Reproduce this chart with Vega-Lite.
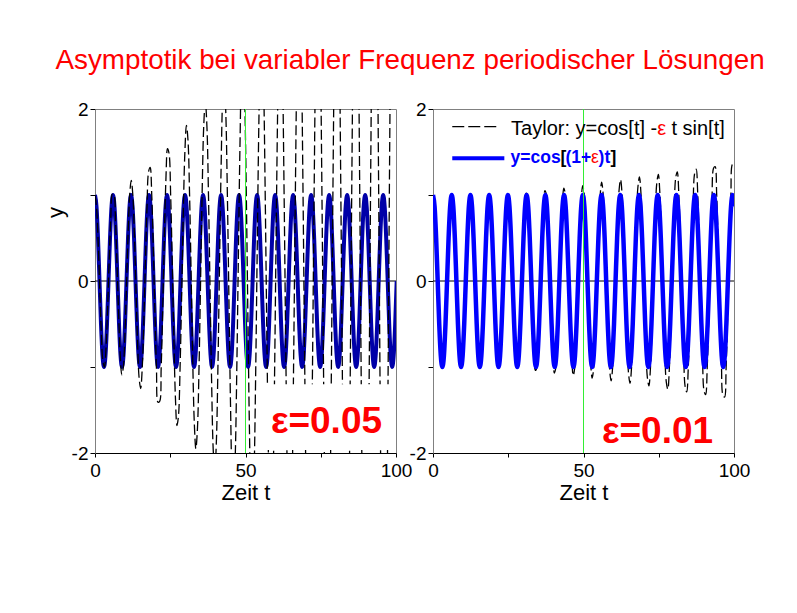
{
"$schema": "https://vega.github.io/schema/vega-lite/v6.json",
"background": "white",
"autosize": {"type": "pad"},
"padding": {"left": 43, "top": 46, "right": 5, "bottom": 5},
"bounds": "flush",
"spacing": 37,
"title": {"text": "Asymptotik bei variabler Frequenz periodischer Lösungen", "font": "Liberation Sans", "fontSize": 27.8, "fontWeight": "normal", "color": "#ff0000", "anchor": "start", "dx": 12, "offset": 25},
"config": {
  "view": {"stroke": "#808080", "strokeWidth": 1},
  "axis": {"labelFont": "Liberation Sans", "labelFontSize": 19, "labelColor": "black", "titleFont": "Liberation Sans", "titleFontSize": 22, "titleFontWeight": "normal", "titleColor": "black", "grid": false, "tickColor": "black", "domainColor": "black", "labelOverlap": false, "labelFlush": false},
  "text": {"font": "Liberation Sans"}
},
"datasets": {
"T": [
{"t":0,"yl":1,"yr":1},{"t":0.52,"yl":0.85,"yr":0.86},{"t":1.05,"yl":0.45,"yr":0.49},{"t":1.57,"yl":-0.08,"yr":-0.02},{"t":2.09,"yl":-0.59,"yr":-0.52},{"t":2.62,"yl":-0.93,"yr":-0.88},{"t":3.14,"yl":-1,"yr":-1},{"t":3.67,"yl":-0.77,"yr":-0.85},{"t":4.19,"yl":-0.32,"yr":-0.46},{"t":4.71,"yl":0.24,"yr":0.05},{"t":5.24,"yl":0.73,"yr":0.55},{"t":5.76,"yl":1.01,"yr":0.89},
{"t":6.28,"yl":1,"yr":1},{"t":6.81,"yl":0.70,"yr":0.83},{"t":7.33,"yl":0.18,"yr":0.44},{"t":7.85,"yl":-0.39,"yr":-0.08},{"t":8.38,"yl":-0.86,"yr":-0.57},{"t":8.90,"yl":-1.09,"yr":-0.91},{"t":9.42,"yl":-1,"yr":-1},{"t":9.95,"yl":-0.62,"yr":-0.82},{"t":10.47,"yl":-0.05,"yr":-0.41},{"t":11.00,"yl":0.55,"yr":0.11},{"t":11.52,"yl":1.00,"yr":0.60},{"t":12.04,"yl":1.17,"yr":0.93},
{"t":12.57,"yl":1,"yr":1},{"t":13.09,"yl":0.54,"yr":0.80},{"t":13.61,"yl":-0.09,"yr":0.38},{"t":14.14,"yl":-0.71,"yr":-0.14},{"t":14.66,"yl":-1.13,"yr":-0.63},{"t":15.18,"yl":-1.25,"yr":-0.94},{"t":15.71,"yl":-1,"yr":-1},{"t":16.23,"yl":-0.46,"yr":-0.78},{"t":16.76,"yl":0.23,"yr":-0.35},{"t":17.28,"yl":0.86,"yr":0.17},{"t":17.80,"yl":1.27,"yr":0.65},{"t":18.33,"yl":1.32,"yr":0.96},
{"t":18.85,"yl":1,"yr":1},{"t":19.37,"yl":0.38,"yr":0.77},{"t":19.90,"yl":-0.36,"yr":0.33},{"t":20.42,"yl":-1.02,"yr":-0.20},{"t":20.94,"yl":-1.41,"yr":-0.68},{"t":21.47,"yl":-1.40,"yr":-0.97},{"t":21.99,"yl":-1,"yr":-1},{"t":22.51,"yl":-0.30,"yr":-0.75},{"t":23.04,"yl":0.50,"yr":-0.30},{"t":23.56,"yl":1.18,"yr":0.24},{"t":24.09,"yl":1.54,"yr":0.71},{"t":24.61,"yl":1.48,"yr":0.99},
{"t":25.13,"yl":1,"yr":1},{"t":25.66,"yl":0.22,"yr":0.74},{"t":26.18,"yl":-0.63,"yr":0.27},{"t":26.70,"yl":-1.34,"yr":-0.27},{"t":27.23,"yl":-1.68,"yr":-0.74},{"t":27.75,"yl":-1.56,"yr":-1.00},{"t":28.27,"yl":-1,"yr":-1},{"t":28.80,"yl":-0.15,"yr":-0.72},{"t":29.32,"yl":0.77,"yr":-0.25},{"t":29.85,"yl":1.49,"yr":0.30},{"t":30.37,"yl":1.81,"yr":0.76},{"t":30.89,"yl":1.64,"yr":1.02},
{"t":31.42,"yl":1,"yr":1},{"t":31.94,"yl":0.07,"yr":0.71},{"t":32.46,"yl":-0.91,"yr":0.22},{"t":32.99,"yl":-1.65,"yr":-0.33},{"t":33.51,"yl":-1.95,"yr":-0.79},{"t":34.03,"yl":-1.72,"yr":-1.04},{"t":34.56,"yl":-1,"yr":-1},{"t":35.08,"yl":0.01,"yr":-0.69},{"t":35.60,"yl":1.04,"yr":-0.19},{"t":36.13,"yl":1.81,"yr":0.36},{"t":36.65,"yl":2.09,"yr":0.82},{"t":37.18,"yl":1.80,"yr":1.05},
{"t":37.70,"yl":1,"yr":1},{"t":38.22,"yl":-0.09,"yr":0.67},{"t":38.75,"yl":-1.18,"yr":0.16},{"t":39.27,"yl":-1.96,"yr":-0.39},{"t":39.79,"yl":-2.22,"yr":-0.84},{"t":40.32,"yl":-1.87,"yr":-1.07},{"t":40.84,"yl":-1,"yr":-1},{"t":41.36,"yl":0.17,"yr":-0.66},{"t":41.89,"yl":1.31,"yr":-0.14},{"t":42.41,"yl":2.12,"yr":0.42},{"t":42.94,"yl":2.36,"yr":0.87},{"t":43.46,"yl":1.95,"yr":1.08},
{"t":43.98,"yl":1,"yr":1},{"t":44.51,"yl":-0.25,"yr":0.64},{"t":45.03,"yl":-1.45,"yr":0.11},{"t":45.55,"yl":-2.28,"yr":-0.46},{"t":46.08,"yl":-2.50,"yr":-0.90},{"t":46.60,"yl":-2.03,"yr":-1.10},{"t":47.12,"yl":-1,"yr":-1},{"t":47.65,"yl":0.33,"yr":-0.63},{"t":48.17,"yl":1.59,"yr":-0.08},{"t":48.69,"yl":2.43,"yr":0.49},{"t":49.22,"yl":2.63,"yr":0.93},{"t":49.74,"yl":2.11,"yr":1.11},
{"t":50.27,"yl":1,"yr":1},{"t":50.79,"yl":-0.40,"yr":0.61},{"t":51.31,"yl":-1.72,"yr":0.06},{"t":51.84,"yl":-2.59,"yr":-0.52},{"t":52.36,"yl":-2.77,"yr":-0.95},{"t":52.88,"yl":-2.19,"yr":-1.13},{"t":53.41,"yl":-1,"yr":-1},{"t":53.93,"yl":0.48,"yr":-0.60},{"t":54.45,"yl":1.86,"yr":-0.03},{"t":54.98,"yl":2.75,"yr":0.55},{"t":55.50,"yl":2.90,"yr":0.98},{"t":56.03,"yl":2.27,"yr":1.15},
{"t":56.55,"yl":1,"yr":1},{"t":57.07,"yl":-0.56,"yr":0.58},{"t":57.60,"yl":-1.99,"yr":0.00},{"t":58.12,"yl":-2.91,"yr":-0.58},{"t":58.64,"yl":-3.04,"yr":-1.01},{"t":59.17,"yl":-2.35,"yr":-1.16},{"t":59.69,"yl":-1,"yr":-1},{"t":60.21,"yl":0.64,"yr":-0.56},{"t":60.74,"yl":2.13,"yr":0.03},{"t":61.26,"yl":3.06,"yr":0.61},{"t":61.78,"yl":3.18,"yr":1.04},{"t":62.31,"yl":2.42,"yr":1.18},
{"t":62.83,"yl":1,"yr":1},{"t":63.36,"yl":-0.72,"yr":0.55},{"t":63.88,"yl":-2.27,"yr":-0.05},{"t":64.40,"yl":-3.22,"yr":-0.64},{"t":64.93,"yl":-3.31,"yr":-1.06},{"t":65.45,"yl":-2.50,"yr":-1.19},{"t":65.97,"yl":-1,"yr":-1},{"t":66.50,"yl":0.80,"yr":-0.53},{"t":67.02,"yl":2.40,"yr":0.08},{"t":67.54,"yl":3.38,"yr":0.68},{"t":68.07,"yl":3.45,"yr":1.09},{"t":68.59,"yl":2.58,"yr":1.21},
{"t":69.12,"yl":1,"yr":1},{"t":69.64,"yl":-0.87,"yr":0.52},{"t":70.16,"yl":-2.54,"yr":-0.11},{"t":70.69,"yl":-3.53,"yr":-0.71},{"t":71.21,"yl":-3.58,"yr":-1.12},{"t":71.73,"yl":-2.66,"yr":-1.22},{"t":72.26,"yl":-1,"yr":-1},{"t":72.78,"yl":0.95,"yr":-0.50},{"t":73.30,"yl":2.67,"yr":0.13},{"t":73.83,"yl":3.69,"yr":0.74},{"t":74.35,"yl":3.72,"yr":1.14},{"t":74.87,"yl":2.74,"yr":1.24},
{"t":75.40,"yl":1,"yr":1},{"t":75.92,"yl":-1.03,"yr":0.49},{"t":76.45,"yl":-2.81,"yr":-0.16},{"t":76.97,"yl":-3.85,"yr":-0.77},{"t":77.49,"yl":-3.86,"yr":-1.17},{"t":78.02,"yl":-2.82,"yr":-1.26},{"t":78.54,"yl":-1,"yr":-1},{"t":79.06,"yl":1.11,"yr":-0.47},{"t":79.59,"yl":2.95,"yr":0.19},{"t":80.11,"yl":4.01,"yr":0.80},{"t":80.63,"yl":3.99,"yr":1.20},{"t":81.16,"yl":2.89,"yr":1.27},
{"t":81.68,"yl":1,"yr":1},{"t":82.21,"yl":-1.19,"yr":0.45},{"t":82.73,"yl":-3.08,"yr":-0.22},{"t":83.25,"yl":-4.16,"yr":-0.83},{"t":83.78,"yl":-4.13,"yr":-1.23},{"t":84.30,"yl":-2.97,"yr":-1.29},{"t":84.82,"yl":-1,"yr":-1},{"t":85.35,"yl":1.27,"yr":-0.44},{"t":85.87,"yl":3.22,"yr":0.24},{"t":86.39,"yl":4.32,"yr":0.86},{"t":86.92,"yl":4.26,"yr":1.25},{"t":87.44,"yl":3.05,"yr":1.30},
{"t":87.96,"yl":1,"yr":1},{"t":88.49,"yl":-1.35,"yr":0.42},{"t":89.01,"yl":-3.35,"yr":-0.27},{"t":89.54,"yl":-4.48,"yr":-0.90},{"t":90.06,"yl":-4.40,"yr":-1.28},{"t":90.58,"yl":-3.13,"yr":-1.32},{"t":91.11,"yl":-1,"yr":-1},{"t":91.63,"yl":1.42,"yr":-0.41},{"t":92.15,"yl":3.49,"yr":0.30},{"t":92.68,"yl":4.63,"yr":0.93},{"t":93.20,"yl":4.54,"yr":1.31},{"t":93.72,"yl":3.21,"yr":1.33},
{"t":94.25,"yl":1,"yr":1},{"t":94.77,"yl":-1.50,"yr":0.39},{"t":95.29,"yl":-3.63,"yr":-0.33},{"t":95.82,"yl":-4.79,"yr":-0.96},{"t":96.34,"yl":-4.67,"yr":-1.33},{"t":96.87,"yl":-3.29,"yr":-1.35},{"t":97.39,"yl":-1,"yr":-1},{"t":97.91,"yl":1.58,"yr":-0.38},{"t":98.44,"yl":3.76,"yr":0.35},{"t":98.96,"yl":4.95,"yr":0.99},{"t":99.48,"yl":4.81,"yr":1.36},{"t":100.01,"yl":3.37,"yr":1.37}
],
"EL": [
{"t":0,"y":1},{"t":0.50,"y":0.866},{"t":1.00,"y":0.5},{"t":1.50,"y":0},{"t":1.99,"y":-0.5},{"t":2.49,"y":-0.866},{"t":2.99,"y":-1},{"t":3.49,"y":-0.866},{"t":3.99,"y":-0.5},{"t":4.49,"y":0},{"t":4.99,"y":0.5},{"t":5.49,"y":0.866},
{"t":5.98,"y":1},{"t":6.48,"y":0.866},{"t":6.98,"y":0.5},{"t":7.48,"y":0},{"t":7.98,"y":-0.5},{"t":8.48,"y":-0.866},{"t":8.98,"y":-1},{"t":9.47,"y":-0.866},{"t":9.97,"y":-0.5},{"t":10.47,"y":0},{"t":10.97,"y":0.5},{"t":11.47,"y":0.866},
{"t":11.97,"y":1},{"t":12.47,"y":0.866},{"t":12.97,"y":0.5},{"t":13.46,"y":0},{"t":13.96,"y":-0.5},{"t":14.46,"y":-0.866},{"t":14.96,"y":-1},{"t":15.46,"y":-0.866},{"t":15.96,"y":-0.5},{"t":16.46,"y":0},{"t":16.95,"y":0.5},{"t":17.45,"y":0.866},
{"t":17.95,"y":1},{"t":18.45,"y":0.866},{"t":18.95,"y":0.5},{"t":19.45,"y":0},{"t":19.95,"y":-0.5},{"t":20.45,"y":-0.866},{"t":20.94,"y":-1},{"t":21.44,"y":-0.866},{"t":21.94,"y":-0.5},{"t":22.44,"y":0},{"t":22.94,"y":0.5},{"t":23.44,"y":0.866},
{"t":23.94,"y":1},{"t":24.43,"y":0.866},{"t":24.93,"y":0.5},{"t":25.43,"y":0},{"t":25.93,"y":-0.5},{"t":26.43,"y":-0.866},{"t":26.93,"y":-1},{"t":27.43,"y":-0.866},{"t":27.93,"y":-0.5},{"t":28.42,"y":0},{"t":28.92,"y":0.5},{"t":29.42,"y":0.866},
{"t":29.92,"y":1},{"t":30.42,"y":0.866},{"t":30.92,"y":0.5},{"t":31.42,"y":0},{"t":31.91,"y":-0.5},{"t":32.41,"y":-0.866},{"t":32.91,"y":-1},{"t":33.41,"y":-0.866},{"t":33.91,"y":-0.5},{"t":34.41,"y":0},{"t":34.91,"y":0.5},{"t":35.41,"y":0.866},
{"t":35.90,"y":1},{"t":36.40,"y":0.866},{"t":36.90,"y":0.5},{"t":37.40,"y":0},{"t":37.90,"y":-0.5},{"t":38.40,"y":-0.866},{"t":38.90,"y":-1},{"t":39.39,"y":-0.866},{"t":39.89,"y":-0.5},{"t":40.39,"y":0},{"t":40.89,"y":0.5},{"t":41.39,"y":0.866},
{"t":41.89,"y":1},{"t":42.39,"y":0.866},{"t":42.89,"y":0.5},{"t":43.38,"y":0},{"t":43.88,"y":-0.5},{"t":44.38,"y":-0.866},{"t":44.88,"y":-1},{"t":45.38,"y":-0.866},{"t":45.88,"y":-0.5},{"t":46.38,"y":0},{"t":46.87,"y":0.5},{"t":47.37,"y":0.866},
{"t":47.87,"y":1},{"t":48.37,"y":0.866},{"t":48.87,"y":0.5},{"t":49.37,"y":0},{"t":49.87,"y":-0.5},{"t":50.37,"y":-0.866},{"t":50.86,"y":-1},{"t":51.36,"y":-0.866},{"t":51.86,"y":-0.5},{"t":52.36,"y":0},{"t":52.86,"y":0.5},{"t":53.36,"y":0.866},
{"t":53.86,"y":1},{"t":54.35,"y":0.866},{"t":54.85,"y":0.5},{"t":55.35,"y":0},{"t":55.85,"y":-0.5},{"t":56.35,"y":-0.866},{"t":56.85,"y":-1},{"t":57.35,"y":-0.866},{"t":57.85,"y":-0.5},{"t":58.34,"y":0},{"t":58.84,"y":0.5},{"t":59.34,"y":0.866},
{"t":59.84,"y":1},{"t":60.34,"y":0.866},{"t":60.84,"y":0.5},{"t":61.34,"y":0},{"t":61.83,"y":-0.5},{"t":62.33,"y":-0.866},{"t":62.83,"y":-1},{"t":63.33,"y":-0.866},{"t":63.83,"y":-0.5},{"t":64.33,"y":0},{"t":64.83,"y":0.5},{"t":65.33,"y":0.866},
{"t":65.82,"y":1},{"t":66.32,"y":0.866},{"t":66.82,"y":0.5},{"t":67.32,"y":0},{"t":67.82,"y":-0.5},{"t":68.32,"y":-0.866},{"t":68.82,"y":-1},{"t":69.31,"y":-0.866},{"t":69.81,"y":-0.5},{"t":70.31,"y":0},{"t":70.81,"y":0.5},{"t":71.31,"y":0.866},
{"t":71.81,"y":1},{"t":72.31,"y":0.866},{"t":72.81,"y":0.5},{"t":73.30,"y":0},{"t":73.80,"y":-0.5},{"t":74.30,"y":-0.866},{"t":74.80,"y":-1},{"t":75.30,"y":-0.866},{"t":75.80,"y":-0.5},{"t":76.30,"y":0},{"t":76.79,"y":0.5},{"t":77.29,"y":0.866},
{"t":77.79,"y":1},{"t":78.29,"y":0.866},{"t":78.79,"y":0.5},{"t":79.29,"y":0},{"t":79.79,"y":-0.5},{"t":80.29,"y":-0.866},{"t":80.78,"y":-1},{"t":81.28,"y":-0.866},{"t":81.78,"y":-0.5},{"t":82.28,"y":0},{"t":82.78,"y":0.5},{"t":83.28,"y":0.866},
{"t":83.78,"y":1},{"t":84.27,"y":0.866},{"t":84.77,"y":0.5},{"t":85.27,"y":0},{"t":85.77,"y":-0.5},{"t":86.27,"y":-0.866},{"t":86.77,"y":-1},{"t":87.27,"y":-0.866},{"t":87.77,"y":-0.5},{"t":88.26,"y":0},{"t":88.76,"y":0.5},{"t":89.26,"y":0.866},
{"t":89.76,"y":1},{"t":90.26,"y":0.866},{"t":90.76,"y":0.5},{"t":91.26,"y":0},{"t":91.75,"y":-0.5},{"t":92.25,"y":-0.866},{"t":92.75,"y":-1},{"t":93.25,"y":-0.866},{"t":93.75,"y":-0.5},{"t":94.25,"y":0},{"t":94.75,"y":0.5},{"t":95.25,"y":0.866},
{"t":95.74,"y":1},{"t":96.24,"y":0.866},{"t":96.74,"y":0.5},{"t":97.24,"y":0},{"t":97.74,"y":-0.5},{"t":98.24,"y":-0.866},{"t":98.74,"y":-1},{"t":99.23,"y":-0.866},{"t":99.73,"y":-0.5},{"t":100.23,"y":0}
],
"ER": [
{"t":0,"y":1},{"t":0.52,"y":0.866},{"t":1.04,"y":0.5},{"t":1.56,"y":0},{"t":2.07,"y":-0.5},{"t":2.59,"y":-0.866},{"t":3.11,"y":-1},{"t":3.63,"y":-0.866},{"t":4.15,"y":-0.5},{"t":4.67,"y":0},{"t":5.18,"y":0.5},{"t":5.70,"y":0.866},
{"t":6.22,"y":1},{"t":6.74,"y":0.866},{"t":7.26,"y":0.5},{"t":7.78,"y":0},{"t":8.29,"y":-0.5},{"t":8.81,"y":-0.866},{"t":9.33,"y":-1},{"t":9.85,"y":-0.866},{"t":10.37,"y":-0.5},{"t":10.89,"y":0},{"t":11.41,"y":0.5},{"t":11.92,"y":0.866},
{"t":12.44,"y":1},{"t":12.96,"y":0.866},{"t":13.48,"y":0.5},{"t":14.00,"y":0},{"t":14.52,"y":-0.5},{"t":15.03,"y":-0.866},{"t":15.55,"y":-1},{"t":16.07,"y":-0.866},{"t":16.59,"y":-0.5},{"t":17.11,"y":0},{"t":17.63,"y":0.5},{"t":18.14,"y":0.866},
{"t":18.66,"y":1},{"t":19.18,"y":0.866},{"t":19.70,"y":0.5},{"t":20.22,"y":0},{"t":20.74,"y":-0.5},{"t":21.25,"y":-0.866},{"t":21.77,"y":-1},{"t":22.29,"y":-0.866},{"t":22.81,"y":-0.5},{"t":23.33,"y":0},{"t":23.85,"y":0.5},{"t":24.37,"y":0.866},
{"t":24.88,"y":1},{"t":25.40,"y":0.866},{"t":25.92,"y":0.5},{"t":26.44,"y":0},{"t":26.96,"y":-0.5},{"t":27.48,"y":-0.866},{"t":27.99,"y":-1},{"t":28.51,"y":-0.866},{"t":29.03,"y":-0.5},{"t":29.55,"y":0},{"t":30.07,"y":0.5},{"t":30.59,"y":0.866},
{"t":31.10,"y":1},{"t":31.62,"y":0.866},{"t":32.14,"y":0.5},{"t":32.66,"y":0},{"t":33.18,"y":-0.5},{"t":33.70,"y":-0.866},{"t":34.22,"y":-1},{"t":34.73,"y":-0.866},{"t":35.25,"y":-0.5},{"t":35.77,"y":0},{"t":36.29,"y":0.5},{"t":36.81,"y":0.866},
{"t":37.33,"y":1},{"t":37.84,"y":0.866},{"t":38.36,"y":0.5},{"t":38.88,"y":0},{"t":39.40,"y":-0.5},{"t":39.92,"y":-0.866},{"t":40.44,"y":-1},{"t":40.95,"y":-0.866},{"t":41.47,"y":-0.5},{"t":41.99,"y":0},{"t":42.51,"y":0.5},{"t":43.03,"y":0.866},
{"t":43.55,"y":1},{"t":44.07,"y":0.866},{"t":44.58,"y":0.5},{"t":45.10,"y":0},{"t":45.62,"y":-0.5},{"t":46.14,"y":-0.866},{"t":46.66,"y":-1},{"t":47.18,"y":-0.866},{"t":47.69,"y":-0.5},{"t":48.21,"y":0},{"t":48.73,"y":0.5},{"t":49.25,"y":0.866},
{"t":49.77,"y":1},{"t":50.29,"y":0.866},{"t":50.80,"y":0.5},{"t":51.32,"y":0},{"t":51.84,"y":-0.5},{"t":52.36,"y":-0.866},{"t":52.88,"y":-1},{"t":53.40,"y":-0.866},{"t":53.92,"y":-0.5},{"t":54.43,"y":0},{"t":54.95,"y":0.5},{"t":55.47,"y":0.866},
{"t":55.99,"y":1},{"t":56.51,"y":0.866},{"t":57.03,"y":0.5},{"t":57.54,"y":0},{"t":58.06,"y":-0.5},{"t":58.58,"y":-0.866},{"t":59.10,"y":-1},{"t":59.62,"y":-0.866},{"t":60.14,"y":-0.5},{"t":60.65,"y":0},{"t":61.17,"y":0.5},{"t":61.69,"y":0.866},
{"t":62.21,"y":1},{"t":62.73,"y":0.866},{"t":63.25,"y":0.5},{"t":63.77,"y":0},{"t":64.28,"y":-0.5},{"t":64.80,"y":-0.866},{"t":65.32,"y":-1},{"t":65.84,"y":-0.866},{"t":66.36,"y":-0.5},{"t":66.88,"y":0},{"t":67.39,"y":0.5},{"t":67.91,"y":0.866},
{"t":68.43,"y":1},{"t":68.95,"y":0.866},{"t":69.47,"y":0.5},{"t":69.99,"y":0},{"t":70.50,"y":-0.5},{"t":71.02,"y":-0.866},{"t":71.54,"y":-1},{"t":72.06,"y":-0.866},{"t":72.58,"y":-0.5},{"t":73.10,"y":0},{"t":73.61,"y":0.5},{"t":74.13,"y":0.866},
{"t":74.65,"y":1},{"t":75.17,"y":0.866},{"t":75.69,"y":0.5},{"t":76.21,"y":0},{"t":76.73,"y":-0.5},{"t":77.24,"y":-0.866},{"t":77.76,"y":-1},{"t":78.28,"y":-0.866},{"t":78.80,"y":-0.5},{"t":79.32,"y":0},{"t":79.84,"y":0.5},{"t":80.35,"y":0.866},
{"t":80.87,"y":1},{"t":81.39,"y":0.866},{"t":81.91,"y":0.5},{"t":82.43,"y":0},{"t":82.95,"y":-0.5},{"t":83.46,"y":-0.866},{"t":83.98,"y":-1},{"t":84.50,"y":-0.866},{"t":85.02,"y":-0.5},{"t":85.54,"y":0},{"t":86.06,"y":0.5},{"t":86.58,"y":0.866},
{"t":87.09,"y":1},{"t":87.61,"y":0.866},{"t":88.13,"y":0.5},{"t":88.65,"y":0},{"t":89.17,"y":-0.5},{"t":89.69,"y":-0.866},{"t":90.20,"y":-1},{"t":90.72,"y":-0.866},{"t":91.24,"y":-0.5},{"t":91.76,"y":0},{"t":92.28,"y":0.5},{"t":92.80,"y":0.866},
{"t":93.31,"y":1},{"t":93.83,"y":0.866},{"t":94.35,"y":0.5},{"t":94.87,"y":0},{"t":95.39,"y":-0.5},{"t":95.91,"y":-0.866},{"t":96.43,"y":-1},{"t":96.94,"y":-0.866},{"t":97.46,"y":-0.5},{"t":97.98,"y":0},{"t":98.50,"y":0.5},{"t":99.02,"y":0.866},
{"t":99.54,"y":1},{"t":100.05,"y":0.866}
]
},
"hconcat": [
{
"width": 301, "height": 344,
"encoding": {
  "x": {"type": "quantitative", "scale": {"domain": [0, 100], "nice": false, "zero": false},
   "axis": {"values": [0, 25, 50, 75, 100], "labelExpr": "datum.value % 50 == 0 ? datum.label : ''", "tickSize": 4, "labelPadding": 4, "title": "Zeit t", "titlePadding": 2}},
  "y": {"type": "quantitative", "scale": {"domain": [-2, 2], "nice": false, "zero": false},
   "axis": {"values": [-2, -1, 0, 1, 2], "labelExpr": "datum.value == 2 ? '2' : datum.value == 0 ? '0' : datum.value == -2 ? '-2' : ''", "tickSize": 5, "labelPadding": 2, "domainColor": "#808080", "title": "y", "titleX": -33, "titleY": 103, "titleBaseline": "alphabetic", "titleAngle": -90}}
},
"layer": [
{"data": {"values": [{}]}, "mark": {"type": "rule", "color": "black", "strokeWidth": 1},
 "encoding": {"y": {"datum": 0}}},
{"data": {"name": "EL"}, "mark": {"type": "line", "color": "#0000a8", "strokeWidth": 4, "interpolate": "monotone", "clip": true},
 "encoding": {"x": {"field": "t"}, "y": {"field": "y"}}},
{"data": {"name": "T"}, "mark": {"type": "line", "color": "black", "strokeWidth": 1.3, "strokeDash": [10, 4], "interpolate": "catmull-rom", "clip": true},
 "encoding": {"x": {"field": "t"}, "y": {"field": "yl"}}},
{"data": {"values": [{}]}, "mark": {"type": "rule", "color": "#33ee33", "strokeWidth": 1},
 "encoding": {"x": {"datum": 50}}},
{"data": {"values": [{}]}, "mark": {"type": "rect", "color": "white"},
 "encoding": {"x": {"datum": 54.3}, "x2": {"datum": 100}, "y": {"datum": -1.2}, "y2": {"datum": -1.965}}},
{"data": {"values": [{}]}, "mark": {"type": "text", "text": "ε=0.05", "color": "#ff0000", "fontSize": 37, "fontWeight": "bold", "align": "center", "baseline": "alphabetic"},
 "encoding": {"x": {"datum": 76.9}, "y": {"datum": -1.771}}}
]
},
{
"width": 301, "height": 344,
"encoding": {
  "x": {"type": "quantitative", "scale": {"domain": [0, 100], "nice": false, "zero": false},
   "axis": {"values": [0, 25, 50, 75, 100], "labelExpr": "datum.value % 50 == 0 ? datum.label : ''", "tickSize": 4, "labelPadding": 4, "title": "Zeit t", "titlePadding": 2}},
  "y": {"type": "quantitative", "scale": {"domain": [-2, 2], "nice": false, "zero": false},
   "axis": {"values": [-2, -1, 0, 1, 2], "labelExpr": "datum.value == 2 ? '2' : datum.value == 0 ? '0' : datum.value == -2 ? '-2' : ''", "tickSize": 5, "labelPadding": 2, "domainColor": "#808080", "title": null}}
},
"layer": [
{"data": {"values": [{}]}, "mark": {"type": "rule", "color": "black", "strokeWidth": 1},
 "encoding": {"y": {"datum": 0}}},
{"data": {"name": "T"}, "mark": {"type": "line", "color": "black", "strokeWidth": 1.3, "strokeDash": [10, 4], "interpolate": "catmull-rom", "clip": true},
 "encoding": {"x": {"field": "t"}, "y": {"field": "yr"}}},
{"data": {"name": "ER"}, "mark": {"type": "line", "color": "#0000ff", "strokeWidth": 4.5, "interpolate": "monotone", "clip": true},
 "encoding": {"x": {"field": "t"}, "y": {"field": "y"}}},
{"data": {"values": [{}]}, "mark": {"type": "rule", "color": "#33ee33", "strokeWidth": 1},
 "encoding": {"x": {"datum": 50}}},
{"data": {"values": [{}]}, "mark": {"type": "rule", "color": "black", "strokeWidth": 1.3, "strokeDash": [12, 4]},
 "encoding": {"x": {"datum": 6.4}, "x2": {"datum": 22.1}, "y": {"datum": 1.794}}},
{"data": {"values": [{}]}, "mark": {"type": "rule", "color": "#0000ff", "strokeWidth": 4},
 "encoding": {"x": {"datum": 6.4}, "x2": {"datum": 23.7}, "y": {"datum": 1.427}}},
{"data": {"values": [{}]}, "mark": {"type": "text", "text": "Taylor: y=cos[t] -", "color": "black", "fontSize": 20, "align": "right", "baseline": "alphabetic"},
 "encoding": {"x": {"datum": 74.5}, "y": {"datum": 1.698}}},
{"data": {"values": [{}]}, "mark": {"type": "text", "text": "ε", "color": "#ff0000", "fontSize": 20, "align": "center", "baseline": "alphabetic"},
 "encoding": {"x": {"datum": 75.95}, "y": {"datum": 1.698}}},
{"data": {"values": [{}]}, "mark": {"type": "text", "text": "t sin[t]", "color": "black", "fontSize": 20, "align": "left", "baseline": "alphabetic"},
 "encoding": {"x": {"datum": 79.2}, "y": {"datum": 1.698}}},
{"data": {"values": [{}]}, "mark": {"type": "text", "text": "y=cos", "color": "#0000ff", "fontSize": 17.5, "fontWeight": "bold", "align": "right", "baseline": "alphabetic"},
 "encoding": {"x": {"datum": 42.4}, "y": {"datum": 1.369}}},
{"data": {"values": [{}]}, "mark": {"type": "text", "text": "[", "color": "black", "fontSize": 17.5, "fontWeight": "bold", "align": "right", "baseline": "alphabetic"},
 "encoding": {"x": {"datum": 44.3}, "y": {"datum": 1.369}}},
{"data": {"values": [{}]}, "mark": {"type": "text", "text": "(1+", "color": "#0000ff", "fontSize": 17.5, "fontWeight": "bold", "align": "right", "baseline": "alphabetic"},
 "encoding": {"x": {"datum": 52.6}, "y": {"datum": 1.369}}},
{"data": {"values": [{}]}, "mark": {"type": "text", "text": "ε", "color": "#ff0000", "fontSize": 17.5, "align": "center", "baseline": "alphabetic"},
 "encoding": {"x": {"datum": 53.8}, "y": {"datum": 1.369}}},
{"data": {"values": [{}]}, "mark": {"type": "text", "text": ")t", "color": "#0000ff", "fontSize": 17.5, "fontWeight": "bold", "align": "left", "baseline": "alphabetic"},
 "encoding": {"x": {"datum": 55.0}, "y": {"datum": 1.369}}},
{"data": {"values": [{}]}, "mark": {"type": "text", "text": "]", "color": "black", "fontSize": 17.5, "fontWeight": "bold", "align": "left", "baseline": "alphabetic"},
 "encoding": {"x": {"datum": 59.0}, "y": {"datum": 1.369}}},
{"data": {"values": [{}]}, "mark": {"type": "text", "text": "ε=0.01", "color": "#ff0000", "fontSize": 37, "fontWeight": "bold", "align": "center", "baseline": "alphabetic"},
 "encoding": {"x": {"datum": 74.6}, "y": {"datum": -1.887}}}
]
}
]
}
